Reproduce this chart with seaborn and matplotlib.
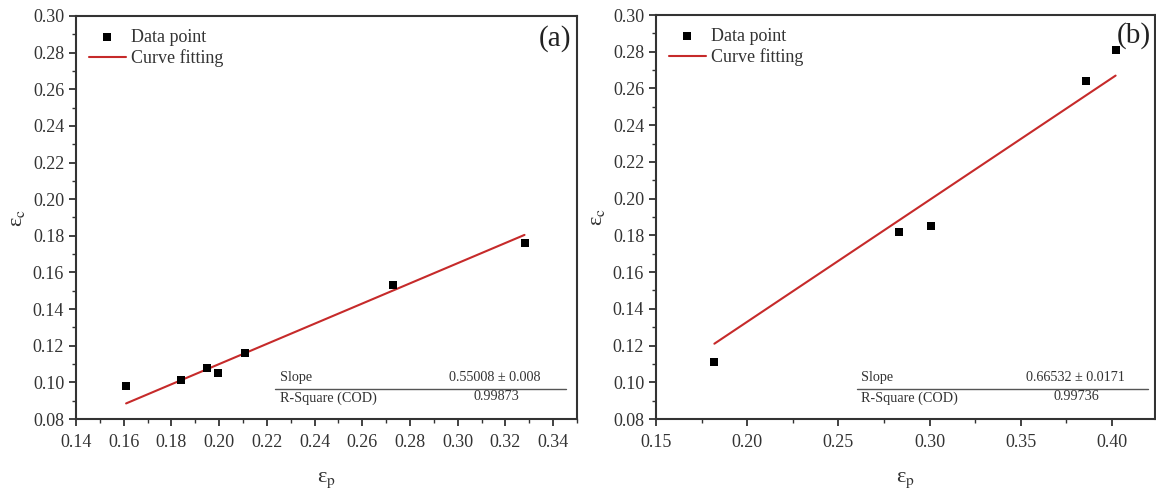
import matplotlib
matplotlib.use("Agg")
import matplotlib.pyplot as plt
import seaborn as sns
import pandas as pd
from matplotlib.ticker import MultipleLocator, FormatStrFormatter

# ---- data ----
ep_a = [0.161, 0.184, 0.195, 0.1995, 0.211, 0.273, 0.328]
ec_a = [0.098, 0.1015, 0.108, 0.105, 0.116, 0.153, 0.176]
fit_x_a = [0.161, 0.328]
fit_y_a = [0.0885, 0.1805]

ep_b = [0.182, 0.283, 0.301, 0.386, 0.402]
ec_b = [0.111, 0.182, 0.185, 0.264, 0.281]
fit_x_b = [0.182, 0.402]
fit_y_b = [0.121, 0.267]

slope_a = "0.55008 ± 0.008"
r2_a = "0.99873"
slope_b = "0.66532 ± 0.0171"
r2_b = "0.99736"

sns.set_style("ticks")
plt.rcParams['font.family'] = ['Liberation Serif', 'DejaVu Serif']
plt.rcParams['mathtext.fontset'] = 'stix'

fig = plt.figure(figsize=(11.56, 4.94), dpi=100)
ax1 = fig.add_axes([76/1156, 1-419/494, 501/1156, 403/494])
ax2 = fig.add_axes([656/1156, 1-419/494, 499/1156, 404/494])

red = "#c62a2a"
dark = "#333333"

panels = [
    (ax1, ep_a, ec_a, fit_x_a, fit_y_a, slope_a, r2_a, "(a)", (0.14, 0.35), 0.02, 0.01,
     dict(x0=0.397, x1=0.978, sx=0.407, vx=0.836, rx=0.84, lab_x=0.988, lab_y=0.945)),
    (ax2, ep_b, ec_b, fit_x_b, fit_y_b, slope_b, r2_b, "(b)", (0.15, 0.4236), 0.05, 0.025,
     dict(x0=0.403, x1=0.985, sx=0.411, vx=0.84, rx=0.843, lab_x=0.992, lab_y=0.95)),
]

for ax, xs, ys, fx, fy, sl, r2, tag, xlim, xmaj, xmin, pos in panels:
    df = pd.DataFrame({"ep": xs, "ec": ys})
    dfit = pd.DataFrame({"ep": fx, "ec": fy})
    sns.lineplot(data=dfit, x="ep", y="ec", ax=ax, color=red, linewidth=1.5,
                 label="Curve fitting", zorder=2)
    sns.scatterplot(data=df, x="ep", y="ec", ax=ax, marker="s", color="black",
                    s=30, edgecolor="black", linewidth=0, label="Data point", zorder=3)
    ax.set_xlim(*xlim)
    ax.set_ylim(0.08, 0.30)
    ax.xaxis.set_major_locator(MultipleLocator(xmaj))
    ax.xaxis.set_minor_locator(MultipleLocator(xmin))
    ax.yaxis.set_major_locator(MultipleLocator(0.02))
    ax.yaxis.set_minor_locator(MultipleLocator(0.01))
    ax.xaxis.set_major_formatter(FormatStrFormatter('%.2f'))
    ax.yaxis.set_major_formatter(FormatStrFormatter('%.2f'))
    ax.tick_params(which='major', direction='out', length=5, width=1.3, color=dark,
                   labelsize=13, labelcolor=dark)
    ax.tick_params(axis='x', which='major', pad=6)
    ax.tick_params(which='minor', direction='out', length=3, width=1.0, color=dark)
    for sp in ax.spines.values():
        sp.set_visible(True)
        sp.set_linewidth(1.5)
        sp.set_color(dark)
    ax.set_xlabel("ε$_\\mathrm{p}$", fontsize=16, color=dark, labelpad=14)
    ax.set_ylabel("ε$_\\mathrm{c}$", fontsize=16, color=dark, labelpad=4)

    h, l = ax.get_legend_handles_labels()
    order = [l.index("Data point"), l.index("Curve fitting")]
    leg = ax.legend([h[i] for i in order], [l[i] for i in order], loc="upper left",
                    frameon=False, fontsize=13, handlelength=2.05, handletextpad=0.3,
                    borderaxespad=0.3, labelspacing=0.2, bbox_to_anchor=(0.0, 1.0))
    for t in leg.get_texts():
        t.set_color(dark)

    ax.text(pos["lab_x"], pos["lab_y"], tag, transform=ax.transAxes, ha="right",
            va="center", fontsize=21, color="#222222")

    # fit-statistics table
    ax.plot([pos["x0"], pos["x1"]], [0.0744, 0.0744], transform=ax.transAxes,
            color="#555555", linewidth=1.0, clip_on=False)
    ax.text(pos["sx"], 0.102, "Slope", transform=ax.transAxes, ha="left", va="center",
            fontsize=10.2, color=dark)
    ax.text(pos["vx"], 0.102, sl, transform=ax.transAxes, ha="center", va="center",
            fontsize=10.2, color=dark)
    ax.text(pos["sx"], 0.052, "R-Square (COD)", transform=ax.transAxes, ha="left",
            va="center", fontsize=10.2, color=dark)
    ax.text(pos["rx"], 0.055, r2, transform=ax.transAxes, ha="center", va="center",
            fontsize=10.2, color=dark)

fig.savefig("out.png", dpi=100)
